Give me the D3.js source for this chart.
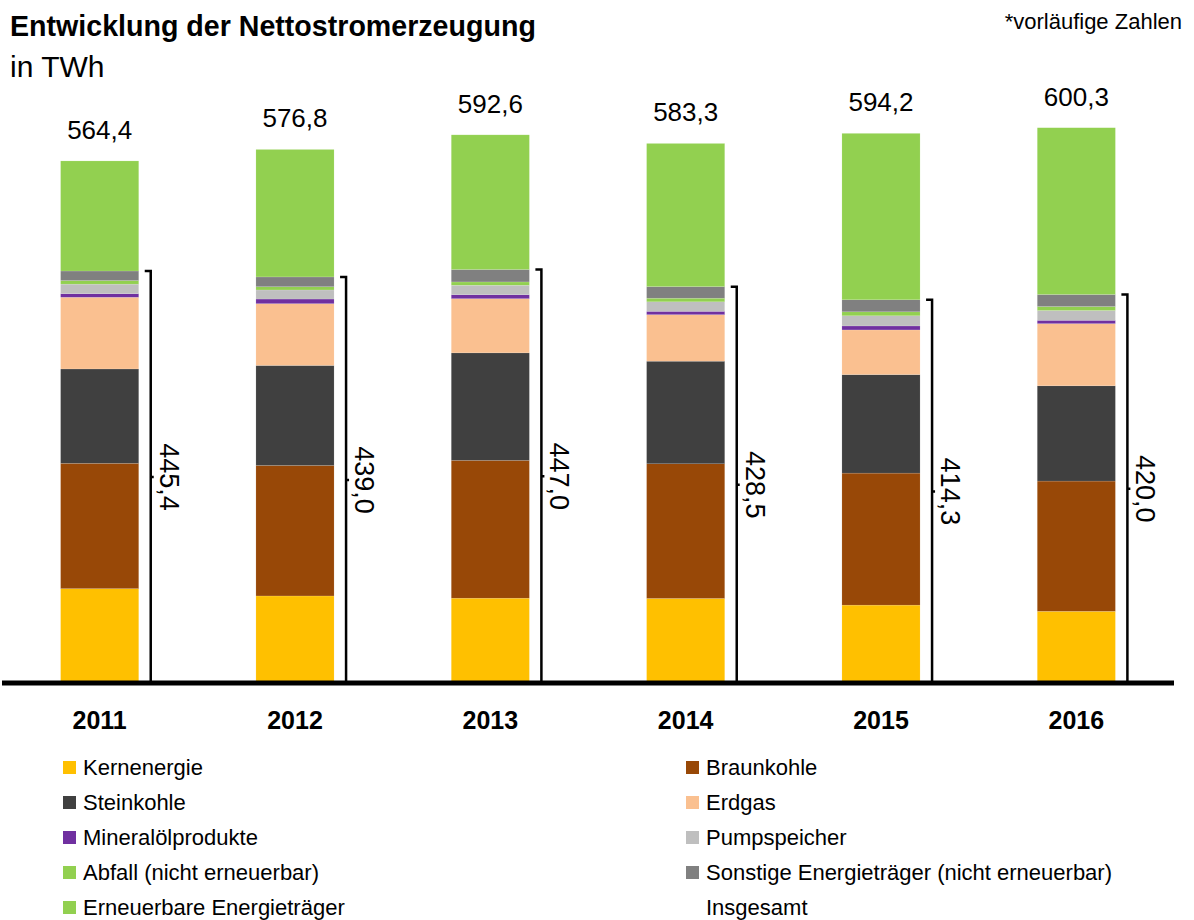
<!DOCTYPE html>
<html>
<head>
<meta charset="utf-8">
<script src="https://cdn.jsdelivr.net/npm/d3@7"></script>
<style>
  body { margin: 0; background: #fff; }
  svg { font-family: "Liberation Sans", Arial, sans-serif; }
</style>
</head>
<body>
<div id="chart"></div>
<script>
// Nettostromerzeugung in TWh
var years = ['2011', '2012', '2013', '2014', '2015', '2016'];
var totals = [564.4, 576.8, 592.6, 583.3, 594.2, 600.3];
var insgesamt = [445.4, 439.0, 447.0, 428.5, 414.3, 420.0];

var kernenergie = [102.0, 94.1, 91.7, 91.4, 84.2, 77.5];
var braunkohle = [135.5, 141.1, 149.0, 145.6, 142.7, 140.8];
var steinkohle = [102.0, 108.1, 116.2, 110.9, 106.5, 103.0];
var erdgas = [77.5, 66.8, 58.6, 50.3, 48.3, 67.2];
var mineraloel = [3.9, 5.0, 4.3, 3.6, 4.3, 3.6];
var pumpspeicher = [10.3, 9.8, 10.2, 10.3, 11.0, 10.6];
var abfall = [3.9, 3.5, 3.6, 3.9, 4.3, 4.3];
var sonstige = [10.3, 10.6, 13.4, 12.5, 13.0, 13.0];
var erneuerbare = [119.0, 137.8, 145.6, 154.8, 179.9, 180.3];

var series = [
  { key: 'kern', label: 'Kernenergie', values: kernenergie, color: '#FFC000' },
  { key: 'braun', label: 'Braunkohle', values: braunkohle, color: '#984807' },
  { key: 'stein', label: 'Steinkohle', values: steinkohle, color: '#404040' },
  { key: 'gas', label: 'Erdgas', values: erdgas, color: '#FAC090' },
  { key: 'oel', label: 'Mineralölprodukte', values: mineraloel, color: '#7030A0' },
  { key: 'pump', label: 'Pumpspeicher', values: pumpspeicher, color: '#BFBFBF' },
  { key: 'abfall', label: 'Abfall (nicht erneuerbar)', values: abfall, color: '#92D050' },
  { key: 'sonst', label: 'Sonstige Energieträger (nicht erneuerbar)', values: sonstige, color: '#808080' },
  { key: 'ee', label: 'Erneuerbare Energieträger', values: erneuerbare, color: '#92D050' }
];

var width = 1194, height = 920;
var baseY = 683;

var table = years.map(function(y, i) {
  var row = { year: y, total: totals[i], conv: insgesamt[i] };
  series.forEach(function(s) { row[s.key] = s.values[i]; });
  return row;
});

var svg = d3.select('#chart').append('svg')
  .attr('width', width)
  .attr('height', height);

var x = d3.scaleBand()
  .domain(years)
  .range([2, 1174])
  .paddingInner(0.6)
  .paddingOuter(0.3);

var y = d3.scaleLinear()
  .domain([0, 600])
  .range([baseY, baseY - 555]);

var stack = d3.stack().keys(series.map(function(s) { return s.key; }));
var stacked = stack(table);

var color = {};
series.forEach(function(s) { color[s.key] = s.color; });

svg.append('g').selectAll('g')
  .data(stacked)
  .enter().append('g')
    .attr('fill', function(d) { return color[d.key]; })
  .selectAll('rect')
  .data(function(d) { return d; })
  .enter().append('rect')
    .attr('x', function(d) { return x(d.data.year); })
    .attr('y', function(d) { return y(d[1]); })
    .attr('width', x.bandwidth())
    .attr('height', function(d) { return y(d[0]) - y(d[1]); })
    .attr('stroke', 'rgba(255,255,255,0.25)')
    .attr('stroke-width', 0.5);

// totals above bars
svg.append('g').selectAll('text')
  .data(table)
  .enter().append('text')
    .attr('x', function(d) { return x(d.year) + x.bandwidth() / 2; })
    .attr('y', function(d) { return y(d.total) - 22; })
    .attr('text-anchor', 'middle')
    .attr('font-size', 26)
    .attr('fill', '#000')
    .text(function(d) { return d3.format('.1f')(d.total).replace('.', ','); });

// brackets for conventional sum
var brackets = svg.append('g').selectAll('g')
  .data(table)
  .enter().append('g');

brackets.append('path')
  .attr('fill', 'none')
  .attr('stroke', '#000')
  .attr('stroke-width', 2.5)
  .attr('d', function(d) {
    var bx = x(d.year) + x.bandwidth() + 12;
    var top = y(d.conv), bot = y(0);
    var mid = (top + bot) / 2;
    return 'M' + (bx - 6) + ',' + top + 'H' + bx + 'V' + mid + 'h3h-3V' + bot + 'H' + (bx - 6);
  });

brackets.append('text')
  .attr('transform', function(d) {
    var bx = x(d.year) + x.bandwidth() + 12;
    var mid = (y(d.conv) + y(0)) / 2;
    return 'translate(' + (bx + 9) + ',' + mid + ') rotate(90)';
  })
  .attr('text-anchor', 'middle')
  .attr('font-size', 27)
  .attr('fill', '#000')
  .text(function(d) { return d3.format('.1f')(d.conv).replace('.', ','); });

// baseline
svg.append('line')
  .attr('x1', 2)
  .attr('x2', 1174)
  .attr('y1', baseY)
  .attr('y2', baseY)
  .attr('stroke', '#000')
  .attr('stroke-width', 5);

var xAxis = d3.axisBottom(x).tickSize(0).tickPadding(0);
var xg = svg.append('g')
  .attr('transform', 'translate(0,' + (baseY + 46) + ')')
  .call(xAxis);
xg.select('.domain').remove();
xg.selectAll('text')
  .attr('dy', 0)
  .attr('font-size', 25)
  .attr('font-weight', 'bold')
  .attr('font-family', '"Liberation Sans", Arial, sans-serif')
  .attr('fill', '#000');

// titles
svg.append('text')
  .attr('x', 10)
  .attr('y', 36)
  .attr('font-size', 28.6)
  .attr('font-weight', 'bold')
  .text('Entwicklung der Nettostromerzeugung');

svg.append('text')
  .attr('x', 10)
  .attr('y', 77)
  .attr('font-size', 30)
  .text('in TWh');

svg.append('text')
  .attr('x', 1182)
  .attr('y', 29)
  .attr('text-anchor', 'end')
  .attr('font-size', 22)
  .text('*vorläufige Zahlen');

// legend
var legendItems = series.map(function(s) { return { label: s.label, color: s.color }; });
legendItems.push({ label: 'Insgesamt', color: null });

var legend = svg.append('g').selectAll('g')
  .data(legendItems)
  .enter().append('g')
    .attr('transform', function(d, i) {
      var col = i % 2, row = Math.floor(i / 2);
      return 'translate(' + (col ? 686 : 63) + ',' + (761 + row * 35) + ')';
    });

legend.filter(function(d) { return d.color; })
  .append('rect')
    .attr('width', 13)
    .attr('height', 13)
    .attr('fill', function(d) { return d.color; });

legend.append('text')
  .attr('x', 20)
  .attr('y', 14)
  .attr('font-size', 22)
  .attr('fill', '#000')
  .text(function(d) { return d.label; });
</script>
</body>
</html>
